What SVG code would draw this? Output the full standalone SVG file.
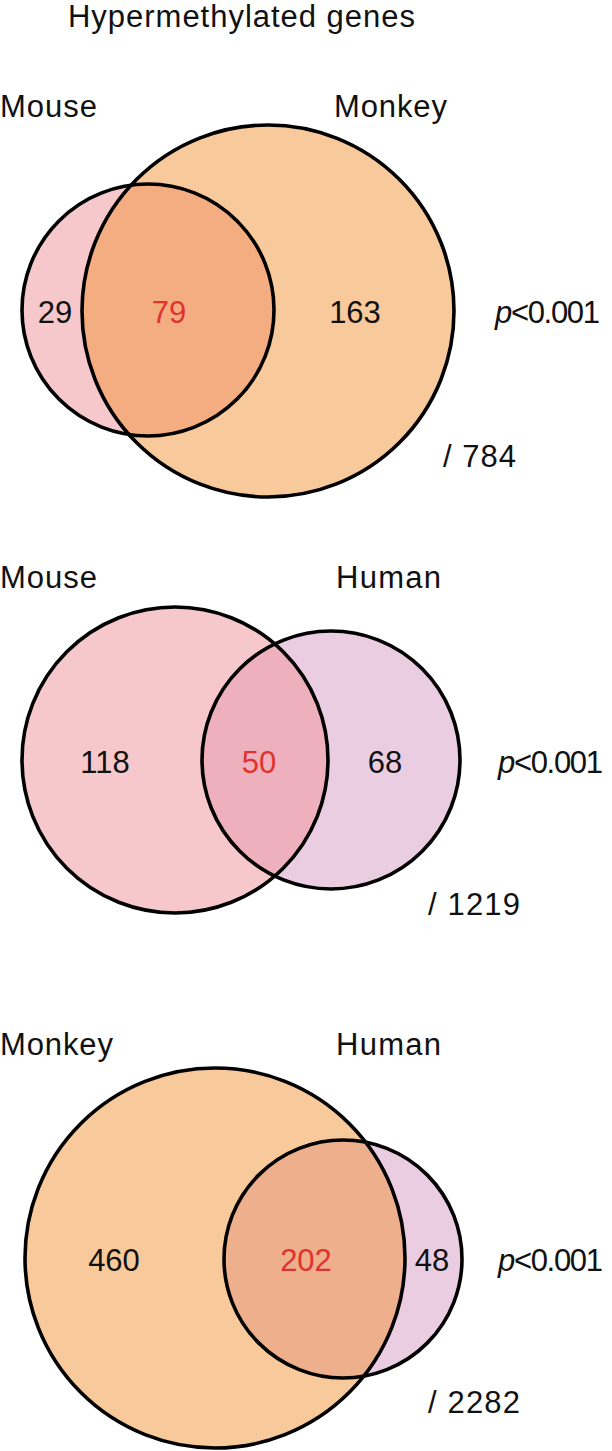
<svg xmlns="http://www.w3.org/2000/svg" width="612" height="1451" viewBox="0 0 612 1451">
<style>
text{font-family:"Liberation Sans",Arial,sans-serif;font-size:31px;fill:#111}
.c{text-anchor:middle}
.red{fill:#E0322F}
.ol{fill:none;stroke:#000;stroke-width:3.6}
.mouse{fill:#F6C8CC}
.monkey{fill:#F8C99B}
.human{fill:#EBCDE2}
</style>
<defs>
<clipPath id="cpMouse1"><circle cx="148" cy="310" r="126"/></clipPath>
<clipPath id="cpHuman2"><circle cx="331" cy="760" r="129"/></clipPath>
<clipPath id="cpHuman3"><circle cx="343" cy="1259" r="119"/></clipPath>
</defs>
<text id="title" x="68" y="27" font-size="29" textLength="347">Hypermethylated genes</text>
<g id="venn1">
<text x="0" y="117" textLength="97">Mouse</text>
<text x="334" y="117" textLength="113">Monkey</text>
<circle class="mouse" cx="148" cy="310" r="126"/>
<circle class="monkey" cx="268" cy="311" r="186"/>
<circle cx="268" cy="311" r="186" fill="#F3AD80" clip-path="url(#cpMouse1)"/>
<circle class="ol" cx="148" cy="310" r="126"/>
<circle class="ol" cx="268" cy="311" r="186"/>
<text class="c" x="55" y="323">29</text>
<text class="c red" x="169" y="323">79</text>
<text class="c" x="355" y="323">163</text>
<text x="495" y="323" textLength="105"><tspan font-style="italic">p</tspan>&lt;0.001</text>
<text x="443" y="467" textLength="73">/ 784</text>
</g>
<g id="venn2">
<text x="0" y="588" textLength="97">Mouse</text>
<text x="336" y="588" textLength="105">Human</text>
<circle class="mouse" cx="175" cy="760" r="153"/>
<circle class="human" cx="331" cy="760" r="129"/>
<circle cx="175" cy="760" r="153" fill="#EFB0BD" clip-path="url(#cpHuman2)"/>
<circle class="ol" cx="175" cy="760" r="153"/>
<circle class="ol" cx="331" cy="760" r="129"/>
<text class="c" x="105" y="773">118</text>
<text class="c red" x="259" y="773">50</text>
<text class="c" x="385" y="773">68</text>
<text x="498" y="773" textLength="105"><tspan font-style="italic">p</tspan>&lt;0.001</text>
<text x="428" y="915" textLength="92">/ 1219</text>
</g>
<g id="venn3">
<text x="0" y="1055" textLength="113">Monkey</text>
<text x="336" y="1055" textLength="105">Human</text>
<circle class="monkey" cx="215" cy="1258" r="190"/>
<circle class="human" cx="343" cy="1259" r="119"/>
<circle cx="215" cy="1258" r="190" fill="#EDAF8C" clip-path="url(#cpHuman3)"/>
<circle class="ol" cx="215" cy="1258" r="190"/>
<circle class="ol" cx="343" cy="1259" r="119"/>
<text class="c" x="114" y="1271">460</text>
<text class="c red" x="306" y="1271">202</text>
<text class="c" x="432" y="1271">48</text>
<text x="498" y="1271" textLength="105"><tspan font-style="italic">p</tspan>&lt;0.001</text>
<text x="428" y="1413" textLength="92">/ 2282</text>
</g>
<g id="connectors"/>
</svg>
